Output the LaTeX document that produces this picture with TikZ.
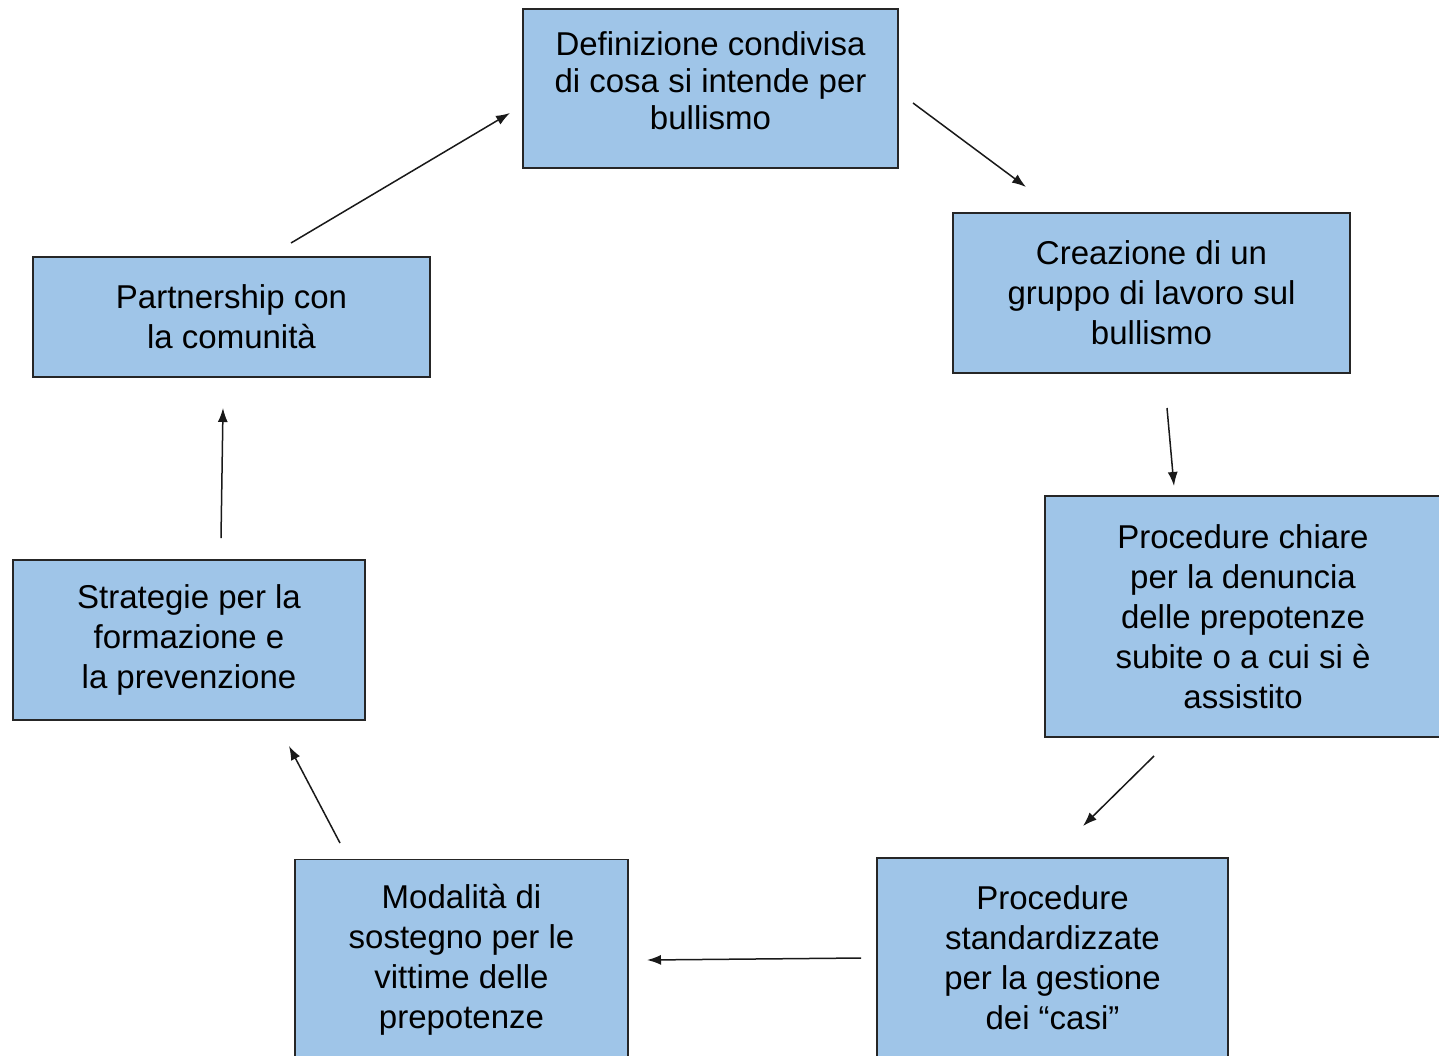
\documentclass[tikz,border=0pt]{standalone}
\usepackage{fontspec}
\setmainfont{Liberation Sans}
\usetikzlibrary{arrows.meta}
\definecolor{boxblue}{HTML}{9FC5E8}
\tikzset{
  stepbox/.style={draw=black!85, line width=0.7pt, fill=boxblue, align=center, inner sep=0pt,
    font=\fontsize{16.5pt}{20pt}\selectfont},
  flow/.style={line width=0.75pt, draw=black!90, -{Latex[length=7pt,width=5pt]}}
}
\begin{document}
\begin{tikzpicture}[x=0.5pt,y=-0.5pt]
\path[use as bounding box] (0,0) rectangle (1439,1055);
\fill[white] (0,0) rectangle (1439,1055);
\clip (0,0) rectangle (1439,1055);
% boxes
\node[stepbox, minimum width=187.5pt, minimum height=79.5pt, text depth=8pt, font=\fontsize{16.5pt}{18.5pt}\selectfont] (def) at (710.5,88.5)
  {Definizione condivisa\\di cosa si intende per\\bullismo};
\node[stepbox, minimum width=198.5pt, minimum height=80pt] (crea) at (1151.5,293)
  {Creazione di un\\gruppo di lavoro sul\\bullismo};
\node[stepbox, minimum width=198pt, minimum height=120.5pt] (chiare) at (1243,616.5)
  {Procedure chiare\\per la denuncia\\delle prepotenze\\subite o a cui si è\\assistito};
\node[stepbox, minimum width=175.5pt, minimum height=100pt] (std) at (1052.5,958)
  {Procedure\\standardizzate\\per la gestione\\dei “casi”};
\node[stepbox, minimum width=166.5pt, minimum height=100pt] (mod) at (461.5,959.5)
  {Modalità di\\sostegno per le\\vittime delle\\prepotenze};
\node[stepbox, minimum width=176pt, minimum height=80pt] (strat) at (189,640)
  {Strategie per la\\formazione e\\la prevenzione};
\node[stepbox, minimum width=198.5pt, minimum height=60pt] (part) at (231.5,317)
  {Partnership con\\la comunità};
% connector endpoints
\coordinate (a1s) at (913,103);  \coordinate (a1e) at (1026,187);
\coordinate (a2s) at (1167,408); \coordinate (a2e) at (1174,486);
\coordinate (a3s) at (1154,756); \coordinate (a3e) at (1083,826);
\coordinate (a4s) at (861,958);  \coordinate (a4e) at (647,960);
\coordinate (a5s) at (340,843);  \coordinate (a5e) at (289,746);
\coordinate (a6s) at (221,538);  \coordinate (a6e) at (223,408);
\coordinate (a7s) at (291,243);  \coordinate (a7e) at (510,113);
\draw[flow] (a1s) -- (a1e);
\draw[flow] (a2s) -- (a2e);
\draw[flow] (a3s) -- (a3e);
\draw[flow] (a4s) -- (a4e);
\draw[flow] (a5s) -- (a5e);
\draw[flow] (a6s) -- (a6e);
\draw[flow] (a7s) -- (a7e);
\end{tikzpicture}
\end{document}
